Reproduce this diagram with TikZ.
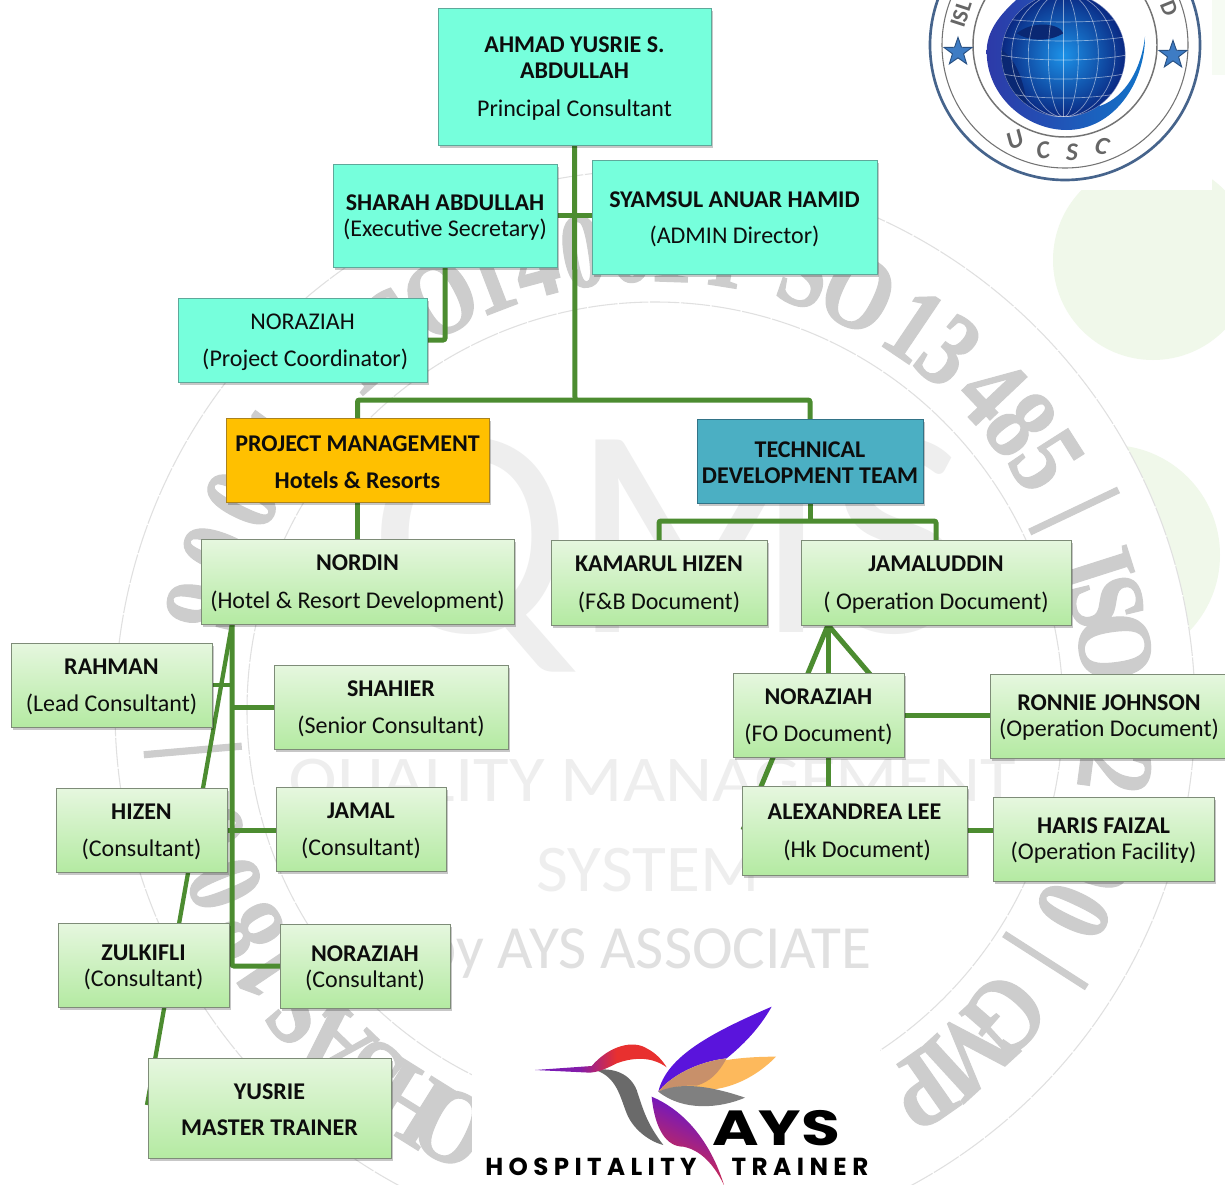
\documentclass[tikz,border=0pt]{standalone}
\usepackage{fontspec}
\setmainfont{Carlito}
\newfontfamily\wmserif[FakeBold=1.2]{Liberation Serif}
\newfontfamily\wmsans{Carlito}
\newfontfamily\ayfont{Poppins}
\newfontfamily\hospfont[LetterSpace=22]{Poppins}
\usetikzlibrary{shapes.geometric,shadows,calc}
\pgfdeclarelayer{wm}
\pgfdeclarelayer{conn}
\pgfsetlayers{wm,conn,main}
\definecolor{mint}{HTML}{76FFDC}
\definecolor{mintb}{HTML}{5FA89A}
\definecolor{lineg}{HTML}{4C8C30}
\definecolor{greenT}{HTML}{E6F7DF}
\definecolor{greenB}{HTML}{B4EAA2}
\definecolor{greenE}{HTML}{7E8C78}
\definecolor{wmgray}{HTML}{CDCDCD}
\definecolor{wmlight}{HTML}{EEEEEE}
\definecolor{wmring}{HTML}{E0E0E0}
\definecolor{pale}{HTML}{F0F8EA}
\definecolor{bpurple}{HTML}{5A14DC}
\definecolor{bred}{HTML}{E8302F}
\definecolor{goldF}{HTML}{FFC000}
\definecolor{goldE}{HTML}{AA821E}
\definecolor{tealF}{HTML}{4BAFC3}
\definecolor{tealE}{HTML}{327387}
\definecolor{sealL}{HTML}{46648C}
\definecolor{sealF}{HTML}{3E7CC4}
\definecolor{sealE}{HTML}{285082}
\definecolor{cresL}{HTML}{2D3AA8}
\definecolor{cresR}{HTML}{1273C8}
\definecolor{globeI}{HTML}{1C92E8}
\definecolor{globeO}{HTML}{0A2882}
\definecolor{landD}{HTML}{0A2873}
\definecolor{wOrange}{HTML}{FDB95C}
\definecolor{wTan}{HTML}{C8906A}
\definecolor{wGray}{HTML}{808080}
\definecolor{nGray}{HTML}{6A6A6A}
\pgfdeclarehorizontalshading{headsh}{100bp}{color(0bp)=(bpurple); color(42bp)=(bpurple!70!bred); color(56bp)=(bred); color(100bp)=(bred)}
\tikzset{
  boxtext/.style={inner sep=0pt,align=center,font=\fontsize{18}{19.5}\selectfont,text=black!95,yshift=-1.5pt},
  boxbase/.style={draw=greenE,line width=.7pt,inner sep=0pt,outer sep=0pt,
    drop shadow={shadow xshift=1.2pt,shadow yshift=-2pt,fill=black,opacity=.22}},
  mintbox/.style={boxbase,fill=mint,draw=mintb},
  greenbox/.style={boxbase,top color=greenT,bottom color=greenB},
  goldbox/.style={boxbase,fill=goldF,draw=goldE},
  tealbox/.style={boxbase,fill=tealF,draw=tealE},
  conn/.style={draw=lineg,line width=3.75pt,rounded corners=1.5pt},
  connthin/.style={draw=lineg,line width=3.2pt},
  wmch/.style={text=wmgray,inner sep=0pt,font=\wmserif\bfseries\fontsize{80}{80}\selectfont},
  wmtx/.style={text=wmlight,inner sep=0pt,font=\wmsans},
  wmcirc/.style={draw=wmring,line width=.8pt,dash pattern=on 22pt off 1.2pt},
  sealring/.style={draw=sealL},
  sealtx/.style={text=black!60,inner sep=0pt,font=\itshape\bfseries\fontsize{19}{19}\selectfont},
  sealstar/.style={star,star points=5,star point ratio=2.5,minimum size=22pt,inner sep=0pt,fill=sealF,draw=sealE,line width=.7pt},
}
\newcommand\bx[7]{\pgfmathsetmacro\bw{(#5-#3)*0.75}\pgfmathsetmacro\bh{(#6-#4)*0.75}%
  \node[#1,minimum width=\bw pt,minimum height=\bh pt,label={[boxtext,name=#2txt]center:{#7}}] (#2) at ({(#3+#5)/2},{(#4+#6)/2}) {};}
\begin{document}
\begin{tikzpicture}[x=.75pt,y=-.75pt]
\useasboundingbox (0,0) rectangle (1225,1185);
\begin{pgfonlayer}{wm}
  \fill[white] (0,0) rectangle (1225,1185);
  \fill[pale] (1153,260) circle[radius=100];
  \fill[pale] (1110,555) circle[radius=110];
  \fill[white] (655,710) circle[radius=540];
  \draw[wmcirc] (655,710) circle[radius=540];
  \draw[wmcirc] (655,710) circle[radius=408];
  \foreach \wc/\wt [count=\wi] in {1/236,8/241.5,0/248,0/255,|/265,9/283,0/290,0/297,1/306,I/319,S/326,O/332.5,1/339,4/345,0/351,0/357,1/2,I/9,S/19,O/26,1/34,3/39.3,4/46.5,8/52,5/57.5,|/64.6,I/72.3,S/76.5,O/82.2,2/90,2/97.5,0/103.5,0/109.5,0/115.6,|/122.7,G/131,M/137.5,P/145,O/206,H/212,S/218,A/224,S/229.5}{
    \node[wmch,rotate=-\wt] (wm\wi) at ({655+464*sin(\wt)},{710-464*cos(\wt)}) {\scalebox{.82}[1]{\wc}};
  }
  \node[wmtx,font=\wmsans\fontsize{225}{225}\selectfont] (wmqms) at (668,555) {QMS};
  \node[wmtx,font=\wmsans\fontsize{49}{49}\selectfont] (wmq) at (652,785) {\scalebox{1.115}[1]{QUALITY MANAGEMENT}};
  \node[wmtx,font=\wmsans\fontsize{50}{50}\selectfont] (wms) at (648,870) {\scalebox{1.04}[1]{SYSTEM}};
  \node[wmtx,text=wmring,font=\wmsans\fontsize{46}{46}\selectfont] (wmb) at (648,952) {by AYS ASSOCIATE};
  \fill[white] (472,990) rectangle (880,1185);
  \fill[white] (900,0) rectangle (1212,190);
  \fill[pale!60!white] (1212,0) rectangle (1225,75);
\end{pgfonlayer}

% ---- boxes
\bx{mintbox}{ahmad}{438}{8}{711}{145}{\textbf{AHMAD YUSRIE S.}\\\textbf{ABDULLAH}\\[8.5pt]Principal Consultant}
\bx{mintbox}{sharah}{333}{164}{557}{267}{\textbf{SHARAH ABDULLAH}\\(Executive Secretary)}
\bx{mintbox}{syamsul}{592}{160}{877}{274}{\textbf{SYAMSUL ANUAR HAMID}\\[7.5pt](ADMIN Director)}
\bx{mintbox}{projc}{178}{298}{427}{382}{NORAZIAH\\[8pt]\hspace*{4pt}(Project Coordinator)}
\bx{goldbox}{pm}{226}{418}{489}{502}{\textbf{PROJECT MANAGEMENT}\\[8.5pt]\textbf{Hotels \& Resorts}}
\bx{tealbox}{tech}{697}{419}{923}{503}{\textbf{TECHNICAL}\\\textbf{DEVELOPMENT TEAM}}
\bx{greenbox}{nordin}{201}{539}{514}{624}{\textbf{NORDIN}\\[8.5pt](Hotel \& Resort Development)}
\bx{greenbox}{kamarul}{551}{540}{767}{625}{\textbf{KAMARUL HIZEN}\\[8.5pt](F\&B Document)}
\bx{greenbox}{jamaluddin}{801}{540}{1071}{625}{\textbf{JAMALUDDIN}\\[8.5pt]( Operation Document)}
\bx{greenbox}{rahman}{11}{643}{212}{727}{\textbf{RAHMAN}\\[8.5pt](Lead Consultant)}
\bx{greenbox}{shahier}{274}{665}{508}{749}{\textbf{SHAHIER}\\[8.5pt](Senior Consultant)}
\bx{greenbox}{hizen}{56}{788}{227}{872}{\textbf{HIZEN}\\[8.5pt](Consultant)}
\bx{greenbox}{jamal}{276}{787}{446}{871}{\textbf{JAMAL}\\[8.5pt](Consultant)}
\bx{greenbox}{zulkifli}{58}{923}{229}{1007}{\textbf{ZULKIFLI}\\(Consultant)}
\bx{greenbox}{norc}{280}{924}{450}{1008}{\textbf{NORAZIAH}\\(Consultant)}
\bx{greenbox}{yusrie}{148}{1058}{391}{1158}{\textbf{YUSRIE}\\[7.5pt]\textbf{MASTER TRAINER}}
\bx{greenbox}{norfo}{733}{673}{904}{757}{\textbf{NORAZIAH}\\[8.5pt](FO Document)}
\bx{greenbox}{ronnie}{990}{674}{1228}{758}{\textbf{RONNIE JOHNSON}\\(Operation Document)}
\bx{greenbox}{alex}{742}{786}{967}{875}{\textbf{ALEXANDREA LEE}\\[8.5pt]\hspace*{4pt}(Hk Document)}
\bx{greenbox}{haris}{993}{797}{1214}{881}{\textbf{HARIS FAIZAL}\\(Operation Facility)}

% ---- connectors
\coordinate (hub) at (575,400);
\coordinate (techj) at (810,521);
\coordinate (nb) at (232,624);
\coordinate (nbend) at (147,1105);
\coordinate (jb) at (828,625);
\coordinate (jl) at (743,830);
\coordinate (jr) at (880,686);
\begin{pgfonlayer}{conn}
  \draw[conn] (ahmad.south) -- (hub);
  \draw[conn] (sharah.east) -- (syamsul.west |- sharah.east);
  \draw[conn] (sharah.south) |- (projc.east);
  \draw[conn] (pm.north) |- (hub) -| (tech.north);
  \draw[conn] (pm.south) -- (nordin.north);
  \draw[conn] (tech.south) -- (techj);
  \draw[conn] (kamarul.north) |- (techj) -| (jamaluddin.north);
  \draw[conn] (nb) |- (norc.west);
  \draw[connthin] (nb) -- (nbend);
  \draw[connthin] (rahman.east) -- (rahman.east -| nb);
  \draw[conn] (shahier.west) -- (shahier.west -| nb);
  \draw[conn] (hizen.east) -- (jamal.west |- hizen.east);
  \draw[conn] (jb) -- (alex.north -| jb);
  \draw[conn] (jb) -- (jl);
  \draw[conn] (jb) -- (jr);
  \draw[conn] (norfo.east) -- (ronnie.west |- norfo.east);
  \draw[conn] (alex.east) -- (haris.west |- alex.east);
\end{pgfonlayer}

% ---- seal, top right
\draw[sealring,line width=2pt] (1065,45) circle[radius=135];
\draw[sealring,line width=.8pt,draw=black!55] (1065,45) circle[radius=123];
\draw[sealring,line width=1.1pt,draw=black!55] (1065,45) circle[radius=92];
\begin{scope}[shift={(900,0)},x=.25pt,y=-.25pt]
  \shade[left color=cresL,right color=cresR]
    (360,-10) .. controls (290,50) and (260,100) .. (260,155)
    .. controls (260,290) and (380,390) .. (500,390)
    .. controls (640,390) and (735,250) .. (735,110)
    .. controls (725,200) and (680,290) .. (600,318) -- (400,-10) -- cycle;
  \begin{scope}
    \clip (490,165) circle[radius=186];
    \shade[inner color=globeI,outer color=globeO] (490,165) circle[radius=186];
    \fill[landD] (350,100) .. controls (400,60) and (480,70) .. (490,100) .. controls (440,130) and (380,120) .. (350,100) -- cycle;
    \fill[landD] (304,150) .. controls (340,170) and (370,230) .. (380,310) -- (300,300) -- cycle;
    \foreach \mr in {45,105,155,186}{
      \draw[white,opacity=.5,line width=.5pt] (490,165) ellipse[x radius=\mr,y radius=186];
    }
    \draw[white,opacity=.5,line width=.5pt] (490,-21) -- (490,351);
    \foreach \la in {-110,-55,0,55,110}{
      \draw[white,opacity=.5,line width=.5pt] (300,{165+\la*1.0}) .. controls (400,{185+\la*1.05}) and (580,{185+\la*1.05}) .. (680,{165+\la*1.0});
    }
  \end{scope}
\end{scope}
\node[sealstar] (star1) at (958,52) {};
\node[sealstar] (star2) at (1173,55) {};
\node[sealtx,rotate=22] (ucu) at (1015,140) {U};
\node[sealtx,rotate=8] (ucc) at (1043,150) {C};
\node[sealtx] (ucs) at (1072,152) {S};
\node[sealtx,rotate=-14] (ucd) at (1102,146) {C};
\node[sealtx,rotate=72,font=\bfseries\fontsize{17}{17}\selectfont] (uci) at (961,14) {ISL};
\node[sealtx,rotate=-68,font=\bfseries\fontsize{17}{17}\selectfont] (ucz) at (1169,8) {D};

% ---- bird logo, bottom
\begin{scope}[shift={(470,990)},x=.25pt,y=-.25pt]
  \fill[wOrange] (565,305) .. controls (640,240) and (720,200) .. (918,200)
     .. controls (860,260) and (780,300) .. (700,300) .. controls (650,285) and (600,290) .. (565,305) -- cycle;
  \fill[bpurple] (565,305) .. controls (590,200) and (720,130) .. (905,50)
     .. controls (860,130) and (800,180) .. (770,205) .. controls (680,215) and (600,260) .. (565,305) -- cycle;
  \fill[wTan] (565,305) .. controls (600,260) and (680,215) .. (770,205)
     .. controls (745,250) and (720,275) .. (680,287) .. controls (630,285) and (590,295) .. (565,305) -- cycle;
  \fill[wGray] (565,305) .. controls (620,280) and (700,280) .. (825,323)
     .. controls (750,355) and (640,365) .. (565,305) -- cycle;
  \fill[nGray] (375,240) .. controls (430,232) and (480,250) .. (500,300)
     .. controls (520,360) and (530,400) .. (580,465) .. controls (540,455) and (490,420) .. (470,370)
     .. controls (450,320) and (440,260) .. (375,240) -- cycle;
  \shade[shading=headsh] (195,240) -- (365,228) .. controls (420,165) and (490,150) .. (530,175)
     .. controls (560,190) and (580,215) .. (590,232) .. controls (540,195) and (480,205) .. (440,220)
     .. controls (410,235) and (390,245) .. (360,248) -- cycle;
  \shade[left color=bpurple,right color=bred,shading angle=-25] (545,320) .. controls (640,360) and (720,450) .. (762,585)
     .. controls (730,520) and (690,480) .. (640,470) .. controls (590,470) and (555,420) .. (545,320) -- cycle;
\end{scope}
\node[inner sep=0pt,font=\ayfont\bfseries\fontsize{37}{37}\selectfont] (ays) at (776,1128) {\scalebox{1.28}[1]{AYS}};
\node[inner sep=0pt,font=\hospfont\bfseries\fontsize{18.4}{18.4}\selectfont] (hosp) at (591,1167) {HOSPITALITY};
\node[inner sep=0pt,font=\hospfont\bfseries\fontsize{18.5}{18.5}\selectfont] (trainer) at (800,1167) {TRAINER};
\end{tikzpicture}
\end{document}
